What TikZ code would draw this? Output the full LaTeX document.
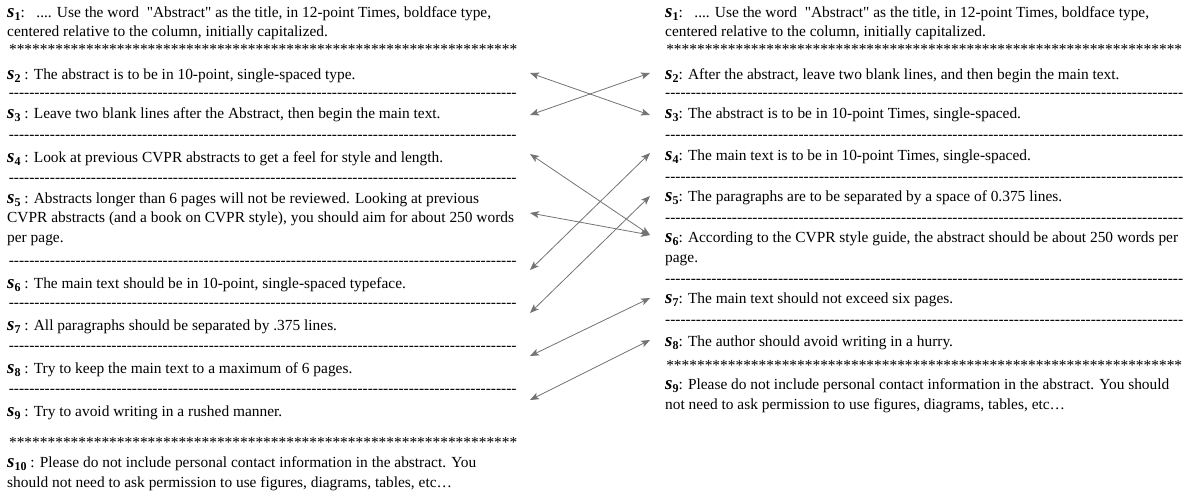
\documentclass[tikz,border=0pt]{standalone}
\usepackage{fontspec}
\setmainfont{Liberation Serif}
\usetikzlibrary{arrows.meta}
\definecolor{arrowgray}{RGB}{115,115,115}
\newcommand\slab[1]{{\fontsize{19}{19}\selectfont\bfseries\itshape s}\raisebox{-3pt}{\fontsize{12}{12}\selectfont\bfseries #1}}
\newcommand\dashfill[1]{\hbox to #1{\cleaders\hbox{-}\hfill}}
\newcommand\starfill[1]{\hbox to #1{\cleaders\hbox{*}\hfill}}
\newcommand\qq{\textquotedbl}
\begin{document}
\begin{tikzpicture}[x=1pt,y=-1pt,
  txt/.style={anchor=base west, inner sep=0pt, align=left, font=\fontsize{15.4}{19.5}\selectfont},
  sep/.style={anchor=base west, inner sep=0pt, font=\fontsize{15.4}{19.5}\selectfont},
  link/.style={draw=arrowgray, line width=0.8pt, {Stealth[length=9pt,width=7pt,inset=2.2pt]}-{Stealth[length=9pt,width=7pt,inset=2.2pt]}}]
\useasboundingbox (0,0) rectangle (1189,491);
% ---------------- left column (multi-line nodes are placed by their last baseline)
\node[txt] (l1) at (7,36.5) {\slab{1}:\ \ \ .... Use the word \ \qq Abstract\qq{} as the title, in 12-point Times, boldface type,\\centered relative to the column, initially capitalized.};
\node[sep] (ls1) at (7,54) {\starfill{512pt}};
\node[txt] (l2) at (7,79) {\slab{2} : The abstract is to be in 10-point, single-spaced type.};
\node[sep] (ld2) at (7,97) {\dashfill{511pt}};
\node[txt] (l3) at (7,118) {\slab{3} : Leave two blank lines after the Abstract, then begin the main text.};
\node[sep] (ld3) at (7,139) {\dashfill{511pt}};
\node[txt] (l4) at (7,162) {\slab{4} : Look at previous CVPR abstracts to get a feel for style and length.};
\node[sep] (ld4) at (7,182) {\dashfill{511pt}};
\node[txt] (l5) at (7,242) {\slab{5} : Abstracts longer than 6 pages will not be reviewed. Looking at previous\\CVPR abstracts (and a book on CVPR style), you should aim for about 250 words\\per page.};
\node[sep] (ld5) at (7,265) {\dashfill{511pt}};
\node[txt] (l6) at (7,288) {\slab{6} : The main text should be in 10-point, single-spaced typeface.};
\node[sep] (ld6) at (7,307) {\dashfill{511pt}};
\node[txt] (l7) at (7,330) {\slab{7} : All paragraphs should be separated by .375 lines.};
\node[sep] (ld7) at (7,350) {\dashfill{511pt}};
\node[txt] (l8) at (7,373) {\slab{8} : Try to keep the main text to a maximum of 6 pages.};
\node[sep] (ld8) at (7,393) {\dashfill{511pt}};
\node[txt] (l9) at (7,416) {\slab{9} : Try to avoid writing in a rushed manner.};
\node[sep] (ls9) at (7,447) {\starfill{512pt}};
\node[txt] (l10) at (7,487) {\slab{10} : Please do not include personal contact information in the abstract. You\\should not need to ask permission to use figures, diagrams, tables, etc\ldots};
% ---------------- right column
\node[txt] (r1) at (665,36.5) {\slab{1}:\ \ \ .... Use the word \ \qq Abstract\qq{} as the title, in 12-point Times, boldface type,\\centered relative to the column, initially capitalized.};
\node[sep] (rs1) at (665,54) {\starfill{518pt}};
\node[txt] (r2) at (665,79) {\slab{2}: After the abstract, leave two blank lines, and then begin the main text.};
\node[sep] (rd2) at (665,97) {\dashfill{518pt}};
\node[txt] (r3) at (665,118) {\slab{3}: The abstract is to be in 10-point Times, single-spaced.};
\node[sep] (rd3) at (665,139) {\dashfill{518pt}};
\node[txt] (r4) at (665,160) {\slab{4}: The main text is to be in 10-point Times, single-spaced.};
\node[sep] (rd4) at (665,181) {\dashfill{518pt}};
\node[txt] (r5) at (665,201) {\slab{5}: The paragraphs are to be separated by a space of 0.375 lines.};
\node[sep] (rd5) at (665,222) {\dashfill{518pt}};
\node[txt] (r6) at (665,262) {\slab{6}: According to the CVPR style guide, the abstract should be about 250 words per\\page.};
\node[sep] (rd6) at (665,283) {\dashfill{518pt}};
\node[txt] (r7) at (665,303) {\slab{7}: The main text should not exceed six pages.};
\node[sep] (rd7) at (665,324) {\dashfill{518pt}};
\node[txt] (r8) at (665,346) {\slab{8}: The author should avoid writing in a hurry.};
\node[sep] (rs8) at (665,370) {\starfill{518pt}};
\node[txt] (r9) at (665,409) {\slab{9}: Please do not include personal contact information in the abstract. You should\\not need to ask permission to use figures, diagrams, tables, etc\ldots};
% ---------------- arrow ends
\coordinate (la2) at (530,73);
\coordinate (la3) at (530,115);
\coordinate (la4) at (530,154);
\coordinate (la5) at (530,213);
\coordinate (la6) at (530,270);
\coordinate (la7) at (530,313);
\coordinate (la8) at (530,356);
\coordinate (la9) at (530,400);
\coordinate (ra2) at (650,73);
\coordinate (ra3) at (650,115);
\coordinate (ra4) at (650,153);
\coordinate (ra5) at (650,196);
\coordinate (ra6) at (650,235);
\coordinate (ra7) at (650,298);
\coordinate (ra8) at (650,340);
\draw[link] (la2) -- (ra3);
\draw[link] (la3) -- (ra2);
\draw[link] (la4) -- (ra6);
\draw[link] (la5) -- (ra6);
\draw[link] (la6) -- (ra4);
\draw[link] (la7) -- (ra5);
\draw[link] (la8) -- (ra7);
\draw[link] (la9) -- (ra8);
\end{tikzpicture}
\end{document}
